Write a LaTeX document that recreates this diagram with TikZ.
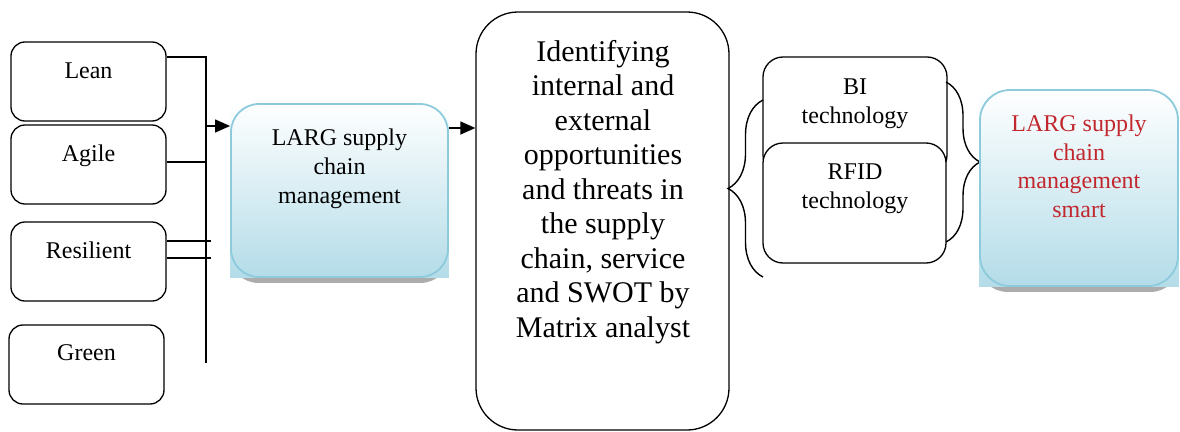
\documentclass[tikz,border=0pt]{standalone}
\usepackage{fontspec}
\setmainfont{Liberation Serif}
\usetikzlibrary{arrows.meta,decorations.pathreplacing,backgrounds}
\definecolor{boxblue}{HTML}{B3DCE8}
\definecolor{boxline}{HTML}{8DCBDC}
\definecolor{smartred}{HTML}{C1272D}

\begin{document}
\begin{tikzpicture}[x=1pt, y=-1pt,
    plainbox/.style={draw, line width=1.3pt, rounded corners=14pt, fill=white,
      minimum width=155pt, minimum height=79pt, inner sep=0pt},
    bluebox/.style={draw=boxline, line width=1.8pt, inner sep=0pt},
    boxtext/.style={anchor=base, align=center, inner sep=0pt,
      font=\fontsize{24}{29}\selectfont},
    link/.style={line width=1.3pt},
    arr/.style={line width=1.3pt, -{Triangle[length=15pt,width=13pt]}},
    curly/.style={line width=1.4pt, decorate, decoration={brace, amplitude=#1}}]

    \useasboundingbox (0,0) rectangle (1180,431);

    % Left column: the four paradigms
    \node[plainbox] (lean)  at (88.5,81.5)  {};
    \node[plainbox] (agile) at (88.5,164.5) {};
    \node[plainbox] (resil) at (88.5,261.5) {};
    \node[plainbox] (green) at (86.5,364.5) {};
    \node[boxtext] (lean-t)  at (88.5,78)  {Lean};
    \node[boxtext] (agile-t) at (88.5,161) {Agile};
    \node[boxtext] (resil-t) at (88.5,258) {Resilient};
    \node[boxtext] (green-t) at (86.5,360) {Green};

    % Collecting bus
    \coordinate (bus-top) at (206,57);
    \coordinate (bus-bot) at (206,363);
    \coordinate (bus-arr) at (206,126);
    \draw[link] (lean.east |- bus-top) -- (bus-top) -- (bus-bot);
    \draw[link] ([yshift=2.5pt]agile.east) -- ([yshift=2.5pt]agile.east -| bus-top);
    \draw[link] ([yshift=20.5pt]resil.east) -- ++(44,0);
    \draw[link] ([yshift=3.5pt]resil.east) -- ++(44,0);

    % LARG supply chain management (base = last line)
    \node[bluebox, rounded corners=28pt, minimum width=217pt, minimum height=173pt]
      (larg) at (339.5,190.5) {};
    \node[boxtext] (larg-t) at (339.5,203) {LARG supply\\chain\\management};
    \draw[arr] (bus-arr) -- (bus-arr -| larg.west);

    % Identifying opportunities and threats
    \node[draw, line width=1.3pt, rounded corners=42pt, minimum width=253pt,
      minimum height=418pt, inner sep=0pt] (mid) at (602.5,221) {};
    \node[boxtext, font=\fontsize{30}{34.5}\selectfont] (mid-t) at (603,337)
      {Identifying\\internal and\\external\\opportunities\\and threats in\\the supply\\chain, service\\and SWOT by\\Matrix analyst};
    \draw[arr] ([yshift=62.5pt]larg.east) -- ([yshift=62.5pt]larg.east -| mid.west);

    % Technologies
    \node[plainbox, rounded corners=20pt, minimum width=184pt, minimum height=118pt]
      (bi) at (855,116) {};
    \node[plainbox, rounded corners=20pt, minimum width=183pt, minimum height=120pt]
      (rfid) at (854.5,203) {};
    \node[boxtext] (bi-t)   at (855,123) {BI\\technology};
    \node[boxtext] (rfid-t) at (855,208) {RFID\\technology};

    \coordinate (lb-top) at (763,100);
    \coordinate (lb-bot) at (763,277);
    \coordinate (rb-top) at (946,82);
    \coordinate (rb-bot) at (946,242);
    \draw[curly=35pt] (lb-bot) -- (lb-top);
    \draw[curly=34pt] (rb-top) -- (rb-bot);

    % LARG supply chain management smart
    \node[bluebox, rounded corners=30pt, minimum width=198pt, minimum height=196pt]
      (smart) at (1079,188) {};
    \node[boxtext, text=smartred, font=\fontsize{24}{28.5}\selectfont] (smart-t)
      at (1079,217) {LARG supply\\chain\\management\\smart};

    % Fill and shadow behind the blue boxes
    \begin{scope}[on background layer]
      \foreach \b in {larg, smart} {
        \fill[gray!65, rounded corners=28pt] ([yshift=-5pt]\b.south west)
          rectangle ([yshift=-5pt]\b.north east);
        \shade[top color=white, bottom color=boxblue] (\b.south west)
          rectangle (\b.north east);
      }
    \end{scope}
\end{tikzpicture}
\end{document}
